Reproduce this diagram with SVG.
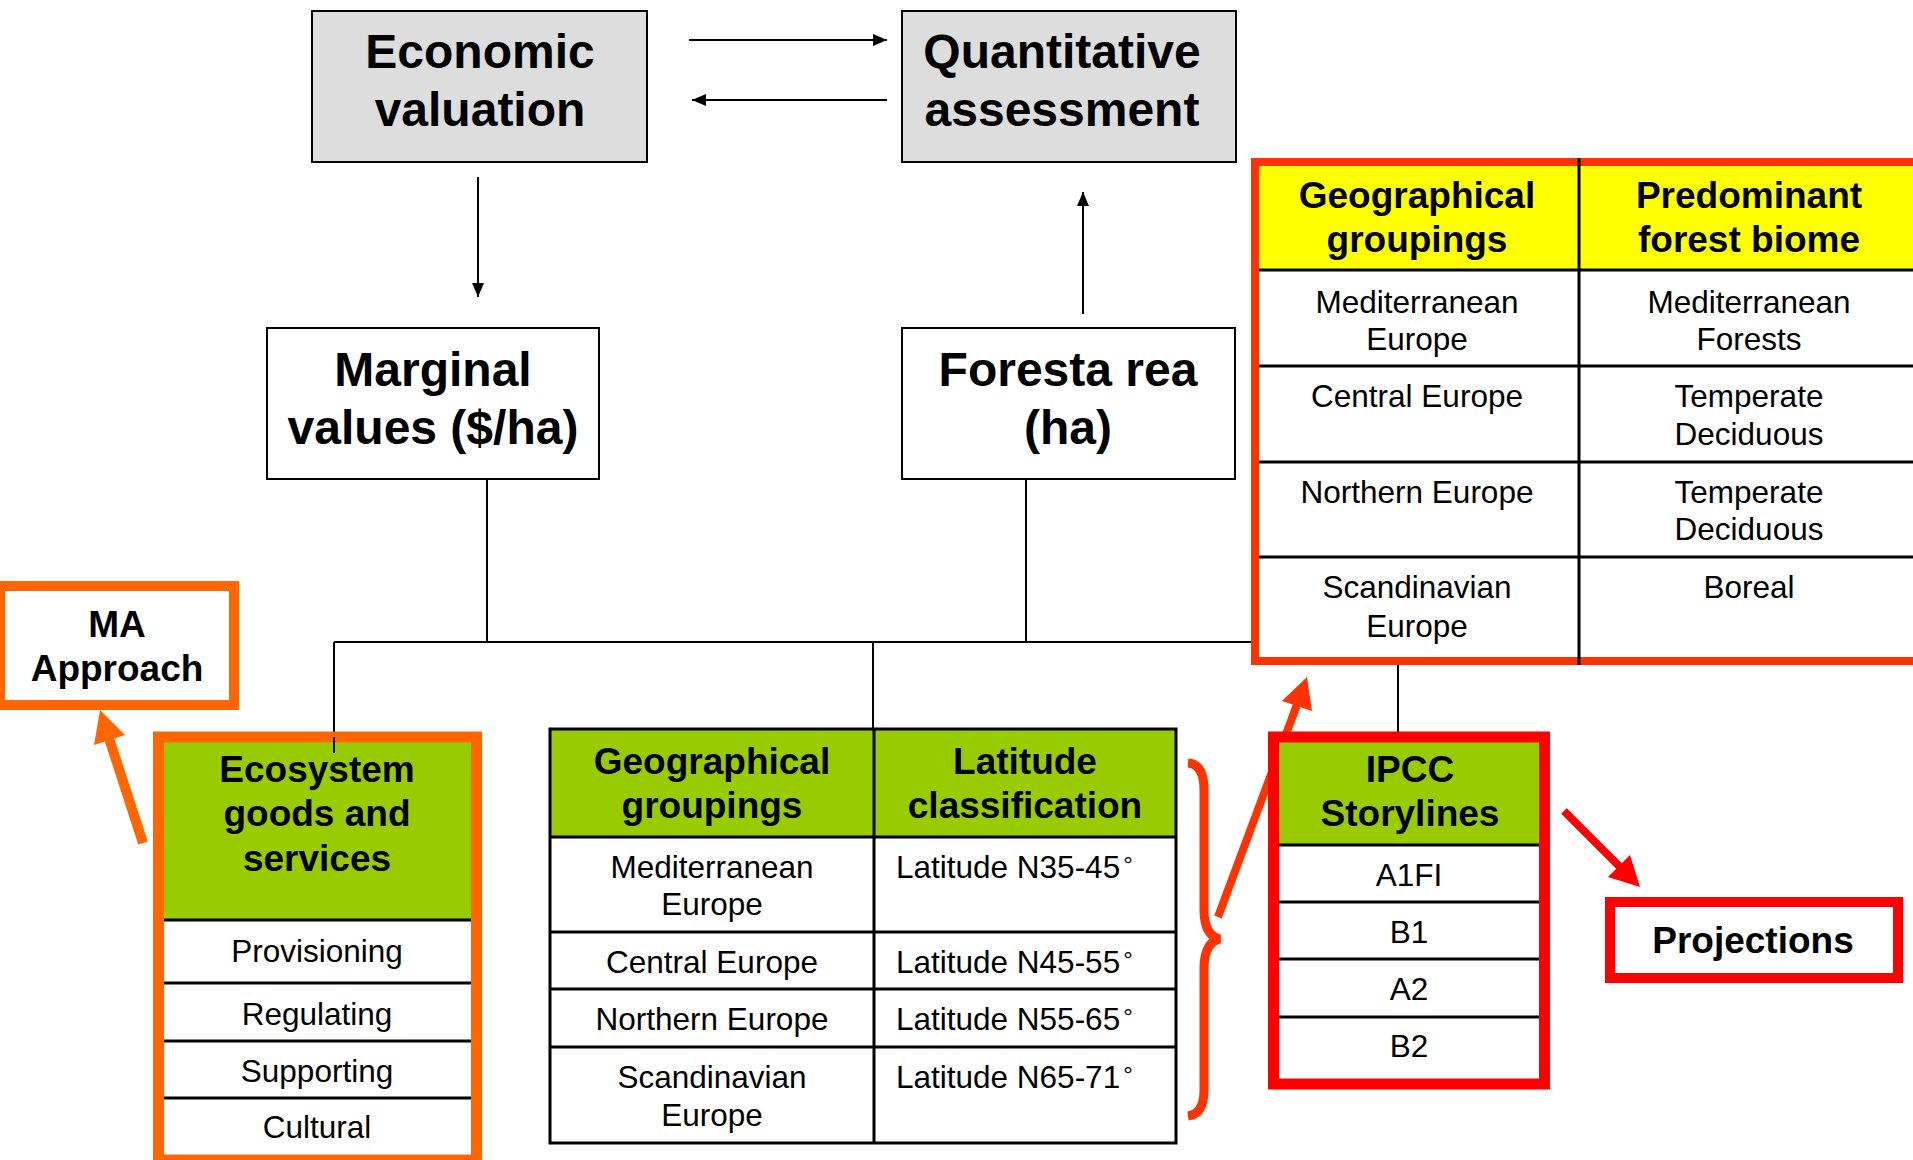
<svg xmlns="http://www.w3.org/2000/svg" width="1913" height="1160" viewBox="0 0 1913 1160">
<defs>
<style>
text{font-family:"Liberation Sans",Arial,sans-serif;fill:#000;text-anchor:middle}
.big{font-size:48px;font-weight:bold}
.hd{font-size:37px;font-weight:bold}
.rw{font-size:31.5px}
.lt{text-anchor:start}
.dg{font-size:24px}
.box{stroke:#000;stroke-width:2}
.ln{stroke:#000;stroke-width:3;fill:none}
.cn{stroke:#000;stroke-width:2;fill:none}
</style>
<marker id="ah" markerWidth="14" markerHeight="12" refX="14" refY="6" orient="auto" markerUnits="userSpaceOnUse">
<path d="M0,0 L14,6 L0,12 Z" fill="#000"/>
</marker>
</defs>
<rect width="1913" height="1160" fill="#fff"/>

<g id="connectors">
<line class="cn" x1="689" y1="40" x2="887" y2="40" marker-end="url(#ah)"/>
<line class="cn" x1="887" y1="100" x2="692" y2="100" marker-end="url(#ah)"/>
<line class="cn" x1="478" y1="177" x2="478" y2="297" marker-end="url(#ah)"/>
<line class="cn" x1="1083" y1="314" x2="1083" y2="192" marker-end="url(#ah)"/>
<line class="cn" x1="487" y1="479" x2="487" y2="642"/>
<line class="cn" x1="1026" y1="479" x2="1026" y2="642"/>
<line class="cn" x1="334" y1="642" x2="1252" y2="642"/>
<line class="cn" x1="334" y1="642" x2="334" y2="753"/>
<line class="cn" x1="873" y1="642" x2="873" y2="729"/>
<line class="cn" x1="1398" y1="662" x2="1398" y2="732"/>
</g>

<g id="economic-valuation">
<rect class="box" x="312" y="11" width="335" height="151" fill="#DDDDDD"/>
<text class="big" x="480" y="68">Economic</text>
<text class="big" x="480" y="126">valuation</text>
</g>

<g id="quantitative-assessment">
<rect class="box" x="902" y="11" width="334" height="151" fill="#DDDDDD"/>
<text class="big" x="1062" y="68">Quantitative</text>
<text class="big" x="1062" y="126">assessment</text>
</g>

<g id="marginal-values">
<rect class="box" x="267" y="328" width="332" height="151" fill="#fff"/>
<text class="big" x="433" y="386">Marginal</text>
<text class="big" x="433" y="444">values ($/ha)</text>
</g>

<g id="forest-area">
<rect class="box" x="902" y="328" width="333" height="151" fill="#fff"/>
<text class="big" x="1068" y="386">Foresta rea</text>
<text class="big" x="1068" y="444">(ha)</text>
</g>

<g id="ma-approach">
<rect x="0" y="586" width="234" height="119" fill="#fff" stroke="#FF6600" stroke-width="10"/>
<text class="hd" x="117" y="637">MA</text>
<text class="hd" x="117" y="681">Approach</text>
</g>

<g id="ma-arrow">
<line x1="143" y1="843" x2="108" y2="735" stroke="#FF6600" stroke-width="10"/>
<polygon points="100,710 125,735 94,745" fill="#FF6600"/>
</g>

<g id="ecosystem-services">
<rect x="158" y="737" width="318" height="183" fill="#99CC00"/>
<rect x="158" y="920" width="318" height="240" fill="#fff"/>
<line class="ln" x1="164" y1="920" x2="471" y2="920"/>
<line class="ln" x1="164" y1="983" x2="471" y2="983"/>
<line class="ln" x1="164" y1="1041" x2="471" y2="1041"/>
<line class="ln" x1="164" y1="1098" x2="471" y2="1098"/>
<rect x="158.5" y="737" width="318" height="423" fill="none" stroke="#FF6600" stroke-width="11"/>
<line class="cn" x1="334" y1="737" x2="334" y2="753"/>
<text class="hd" x="317" y="782">Ecosystem</text>
<text class="hd" x="317" y="826">goods and</text>
<text class="hd" x="317" y="871">services</text>
<text class="rw" x="317" y="962">Provisioning</text>
<text class="rw" x="317" y="1025">Regulating</text>
<text class="rw" x="317" y="1082">Supporting</text>
<text class="rw" x="317" y="1138">Cultural</text>
</g>

<g id="latitude-table">
<rect x="550" y="729" width="626" height="108" fill="#99CC00"/>
<rect x="550" y="837" width="626" height="306" fill="#fff"/>
<rect class="ln" x="550" y="729" width="626" height="414"/>
<line class="ln" x1="550" y1="837" x2="1176" y2="837"/>
<line class="ln" x1="550" y1="932" x2="1176" y2="932"/>
<line class="ln" x1="550" y1="989" x2="1176" y2="989"/>
<line class="ln" x1="550" y1="1047" x2="1176" y2="1047"/>
<line class="ln" x1="874" y1="729" x2="874" y2="1143"/>
<text class="hd" x="712" y="774">Geographical</text>
<text class="hd" x="712" y="818">groupings</text>
<text class="hd" x="1025" y="774">Latitude</text>
<text class="hd" x="1025" y="818">classification</text>
<text class="rw" x="712" y="878">Mediterranean</text>
<text class="rw" x="712" y="915">Europe</text>
<text class="rw" x="712" y="973">Central Europe</text>
<text class="rw" x="712" y="1030">Northern Europe</text>
<text class="rw" x="712" y="1088">Scandinavian</text>
<text class="rw" x="712" y="1126">Europe</text>
<text class="rw lt" x="896" y="878">Latitude N35-45<tspan class="dg" dx="3" dy="-5">°</tspan></text>
<text class="rw lt" x="896" y="973">Latitude N45-55<tspan class="dg" dx="3" dy="-5">°</tspan></text>
<text class="rw lt" x="896" y="1030">Latitude N55-65<tspan class="dg" dx="3" dy="-5">°</tspan></text>
<text class="rw lt" x="896" y="1088">Latitude N65-71<tspan class="dg" dx="3" dy="-5">°</tspan></text>
</g>

<g id="brace">
<path d="M1188,763 Q1204,764 1204,790 L1204,912 Q1205,936 1220,939 Q1205,942 1204,966 L1204,1090 Q1204,1114 1188,1116" fill="none" stroke="#FF3300" stroke-width="9"/>
<line x1="1218" y1="917" x2="1298" y2="702" stroke="#FF3300" stroke-width="8"/>
<polygon points="1307,677 1312,711 1282,701" fill="#FF3300"/>
</g>

<g id="biome-table">
<rect x="1255" y="162" width="700" height="108" fill="#FFFF00"/>
<rect x="1255" y="270" width="700" height="391" fill="#fff"/>
<line class="ln" x1="1255" y1="270" x2="1913" y2="270"/>
<line class="ln" x1="1255" y1="366" x2="1913" y2="366"/>
<line class="ln" x1="1255" y1="462" x2="1913" y2="462"/>
<line class="ln" x1="1255" y1="557" x2="1913" y2="557"/>
<rect x="1255" y="162" width="700" height="499" fill="none" stroke="#FF3300" stroke-width="8"/>
<line class="ln" x1="1579" y1="158" x2="1579" y2="665"/>
<text class="hd" x="1417" y="208">Geographical</text>
<text class="hd" x="1417" y="252">groupings</text>
<text class="hd" x="1749" y="208">Predominant</text>
<text class="hd" x="1749" y="252">forest biome</text>
<text class="rw" x="1417" y="313">Mediterranean</text>
<text class="rw" x="1417" y="350">Europe</text>
<text class="rw" x="1749" y="313">Mediterranean</text>
<text class="rw" x="1749" y="350">Forests</text>
<text class="rw" x="1417" y="407">Central Europe</text>
<text class="rw" x="1749" y="407">Temperate</text>
<text class="rw" x="1749" y="445">Deciduous</text>
<text class="rw" x="1417" y="503">Northern Europe</text>
<text class="rw" x="1749" y="503">Temperate</text>
<text class="rw" x="1749" y="540">Deciduous</text>
<text class="rw" x="1417" y="598">Scandinavian</text>
<text class="rw" x="1417" y="637">Europe</text>
<text class="rw" x="1749" y="598">Boreal</text>
</g>

<g id="ipcc-storylines">
<rect x="1273" y="737" width="272" height="108" fill="#99CC00"/>
<rect x="1273" y="845" width="272" height="239" fill="#fff"/>
<line class="ln" x1="1279" y1="845" x2="1540" y2="845"/>
<line class="ln" x1="1279" y1="902" x2="1540" y2="902"/>
<line class="ln" x1="1279" y1="959" x2="1540" y2="959"/>
<line class="ln" x1="1279" y1="1017" x2="1540" y2="1017"/>
<rect x="1273.5" y="737" width="271" height="347" fill="none" stroke="#FF0000" stroke-width="11"/>
<text class="hd" x="1410" y="782">IPCC</text>
<text class="hd" x="1410" y="826">Storylines</text>
<text class="rw" x="1409" y="886">A1FI</text>
<text class="rw" x="1409" y="943">B1</text>
<text class="rw" x="1409" y="1000">A2</text>
<text class="rw" x="1409" y="1057">B2</text>
</g>

<g id="projections-arrow">
<line x1="1564" y1="811" x2="1622" y2="869" stroke="#FF0000" stroke-width="8"/>
<polygon points="1640,887 1608,877 1630,855" fill="#FF0000"/>
</g>

<g id="projections">
<rect x="1610" y="902" width="288" height="76" fill="#fff" stroke="#FF0000" stroke-width="10"/>
<text class="hd" x="1753" y="953">Projections</text>
</g>
</svg>
